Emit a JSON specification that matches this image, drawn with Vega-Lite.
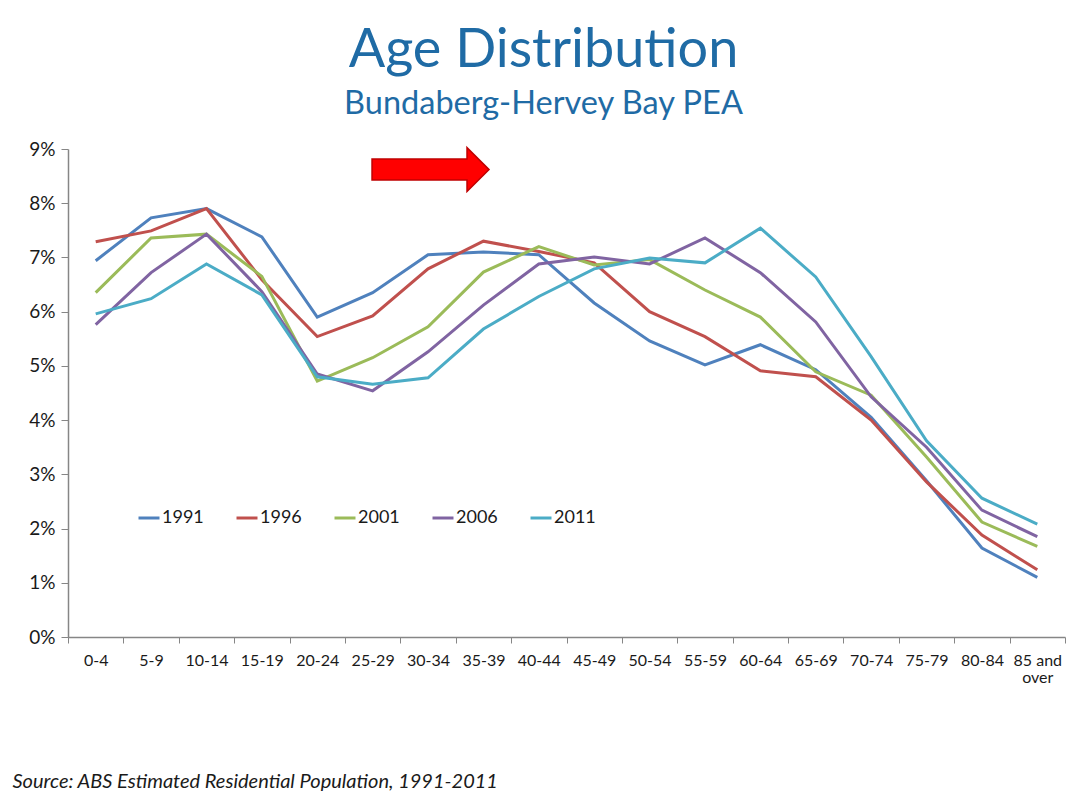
{
  "$schema": "https://vega.github.io/schema/vega-lite/v6.json",
  "width": 997,
  "height": 488,
  "autosize": {"type": "none"},
  "padding": {"left": 68, "top": 149, "right": 10, "bottom": 170},
  "background": "white",
  "title": {
    "text": "Age Distribution",
    "subtitle": "Bundaberg-Hervey Bay PEA",
    "anchor": "middle",
    "frame": "group",
    "dx": -23,
    "font": "Lato",
    "fontSize": 54,
    "fontWeight": "normal",
    "color": "#1F6BA5",
    "subtitleFont": "Lato",
    "subtitleFontSize": 32.5,
    "subtitleColor": "#1F6BA5",
    "subtitlePadding": 10,
    "offset": 20
  },
  "config": {
    "view": {"stroke": null},
    "font": "Lato",
    "axis": {
      "labelFont": "Lato",
      "labelColor": "#1a1a1a",
      "domainColor": "#868686",
      "tickColor": "#868686",
      "grid": false
    }
  },
  "datasets": {
    "series": [
      {"age": "0-4", "year": "1991", "pct": 6.94},
      {"age": "5-9", "year": "1991", "pct": 7.73},
      {"age": "10-14", "year": "1991", "pct": 7.9},
      {"age": "15-19", "year": "1991", "pct": 7.38},
      {"age": "20-24", "year": "1991", "pct": 5.9},
      {"age": "25-29", "year": "1991", "pct": 6.35},
      {"age": "30-34", "year": "1991", "pct": 7.05},
      {"age": "35-39", "year": "1991", "pct": 7.1},
      {"age": "40-44", "year": "1991", "pct": 7.05},
      {"age": "45-49", "year": "1991", "pct": 6.16},
      {"age": "50-54", "year": "1991", "pct": 5.46},
      {"age": "55-59", "year": "1991", "pct": 5.02},
      {"age": "60-64", "year": "1991", "pct": 5.39},
      {"age": "65-69", "year": "1991", "pct": 4.93},
      {"age": "70-74", "year": "1991", "pct": 4.05},
      {"age": "75-79", "year": "1991", "pct": 2.88},
      {"age": "80-84", "year": "1991", "pct": 1.64},
      {"age": "85 and over", "year": "1991", "pct": 1.1},
      {"age": "0-4", "year": "1996", "pct": 7.29},
      {"age": "5-9", "year": "1996", "pct": 7.49},
      {"age": "10-14", "year": "1996", "pct": 7.9},
      {"age": "15-19", "year": "1996", "pct": 6.59},
      {"age": "20-24", "year": "1996", "pct": 5.54},
      {"age": "25-29", "year": "1996", "pct": 5.92},
      {"age": "30-34", "year": "1996", "pct": 6.79},
      {"age": "35-39", "year": "1996", "pct": 7.3},
      {"age": "40-44", "year": "1996", "pct": 7.11},
      {"age": "45-49", "year": "1996", "pct": 6.9},
      {"age": "50-54", "year": "1996", "pct": 6.0},
      {"age": "55-59", "year": "1996", "pct": 5.54},
      {"age": "60-64", "year": "1996", "pct": 4.91},
      {"age": "65-69", "year": "1996", "pct": 4.8},
      {"age": "70-74", "year": "1996", "pct": 4.0},
      {"age": "75-79", "year": "1996", "pct": 2.86},
      {"age": "80-84", "year": "1996", "pct": 1.88},
      {"age": "85 and over", "year": "1996", "pct": 1.24},
      {"age": "0-4", "year": "2001", "pct": 6.35},
      {"age": "5-9", "year": "2001", "pct": 7.36},
      {"age": "10-14", "year": "2001", "pct": 7.43},
      {"age": "15-19", "year": "2001", "pct": 6.65},
      {"age": "20-24", "year": "2001", "pct": 4.72},
      {"age": "25-29", "year": "2001", "pct": 5.15},
      {"age": "30-34", "year": "2001", "pct": 5.72},
      {"age": "35-39", "year": "2001", "pct": 6.73},
      {"age": "40-44", "year": "2001", "pct": 7.2},
      {"age": "45-49", "year": "2001", "pct": 6.86},
      {"age": "50-54", "year": "2001", "pct": 6.96},
      {"age": "55-59", "year": "2001", "pct": 6.4},
      {"age": "60-64", "year": "2001", "pct": 5.9},
      {"age": "65-69", "year": "2001", "pct": 4.89},
      {"age": "70-74", "year": "2001", "pct": 4.46},
      {"age": "75-79", "year": "2001", "pct": 3.32},
      {"age": "80-84", "year": "2001", "pct": 2.12},
      {"age": "85 and over", "year": "2001", "pct": 1.67},
      {"age": "0-4", "year": "2006", "pct": 5.76},
      {"age": "5-9", "year": "2006", "pct": 6.72},
      {"age": "10-14", "year": "2006", "pct": 7.43},
      {"age": "15-19", "year": "2006", "pct": 6.37},
      {"age": "20-24", "year": "2006", "pct": 4.85},
      {"age": "25-29", "year": "2006", "pct": 4.54},
      {"age": "30-34", "year": "2006", "pct": 5.26},
      {"age": "35-39", "year": "2006", "pct": 6.12},
      {"age": "40-44", "year": "2006", "pct": 6.88},
      {"age": "45-49", "year": "2006", "pct": 7.01},
      {"age": "50-54", "year": "2006", "pct": 6.88},
      {"age": "55-59", "year": "2006", "pct": 7.36},
      {"age": "60-64", "year": "2006", "pct": 6.72},
      {"age": "65-69", "year": "2006", "pct": 5.81},
      {"age": "70-74", "year": "2006", "pct": 4.43},
      {"age": "75-79", "year": "2006", "pct": 3.5},
      {"age": "80-84", "year": "2006", "pct": 2.34},
      {"age": "85 and over", "year": "2006", "pct": 1.85},
      {"age": "0-4", "year": "2011", "pct": 5.96},
      {"age": "5-9", "year": "2011", "pct": 6.24},
      {"age": "10-14", "year": "2011", "pct": 6.88},
      {"age": "15-19", "year": "2011", "pct": 6.31},
      {"age": "20-24", "year": "2011", "pct": 4.8},
      {"age": "25-29", "year": "2011", "pct": 4.66},
      {"age": "30-34", "year": "2011", "pct": 4.78},
      {"age": "35-39", "year": "2011", "pct": 5.68},
      {"age": "40-44", "year": "2011", "pct": 6.28},
      {"age": "45-49", "year": "2011", "pct": 6.79},
      {"age": "50-54", "year": "2011", "pct": 6.99},
      {"age": "55-59", "year": "2011", "pct": 6.9},
      {"age": "60-64", "year": "2011", "pct": 7.54},
      {"age": "65-69", "year": "2011", "pct": 6.64},
      {"age": "70-74", "year": "2011", "pct": 5.17},
      {"age": "75-79", "year": "2011", "pct": 3.62},
      {"age": "80-84", "year": "2011", "pct": 2.56},
      {"age": "85 and over", "year": "2011", "pct": 2.08}
    ],
    "arrow": [
      {"age": "30-34", "pct": 8.62}
    ]
  },
  "encoding": {
    "x": {
      "field": "age",
      "type": "nominal",
      "sort": ["0-4","5-9","10-14","15-19","20-24","25-29","30-34","35-39","40-44","45-49","50-54","55-59","60-64","65-69","70-74","75-79","80-84","85 and over"],
      "scale": {"type": "band", "paddingInner": 0, "paddingOuter": 0},
      "axis": {
        "title": "Source: ABS Estimated Residential Population, 1991-2011",
        "titleFont": "Lato",
        "titleFontStyle": "italic",
        "titleFontWeight": "normal",
        "titleFontSize": 20,
        "titleColor": "#1a1a1a",
        "titleAnchor": "start",
        "titleAlign": "left",
        "titleBaseline": "alphabetic",
        "titleX": -56,
        "titleY": 150,
        "labelAngle": 0,
        "labelFontSize": 16,
        "labelPadding": 9,
        "labelLineHeight": 17,
        "labelExpr": "datum.value == '85 and over' ? ['85 and', 'over'] : datum.value",
        "tickBand": "extent",
        "tickSize": 6,
        "domainWidth": 1.5
      }
    },
    "y": {
      "field": "pct",
      "type": "quantitative",
      "scale": {"domain": [0, 9], "nice": false},
      "axis": {
        "title": null,
        "values": [0,1,2,3,4,5,6,7,8,9],
        "labelExpr": "datum.value + '%'",
        "labelFontSize": 19,
        "labelPadding": 6,
        "tickSize": 7,
        "domainWidth": 1.5
      }
    }
  },
  "layer": [
    {
      "data": {"name": "series"},
      "mark": {"type": "line", "strokeWidth": 3},
      "encoding": {
        "color": {
          "field": "year",
          "type": "nominal",
          "scale": {
            "domain": ["1991","1996","2001","2006","2011"],
            "range": ["#4F81BD","#C0504D","#9BBB59","#8064A2","#4BACC6"]
          },
          "legend": {
            "title": null,
            "orient": "none",
            "direction": "horizontal",
            "legendX": 69,
            "legendY": 357,
            "symbolType": "stroke",
            "symbolSize": 441,
            "symbolStrokeWidth": 3,
            "labelFont": "Lato",
            "labelFontSize": 18,
            "labelColor": "#1a1a1a",
            "labelOffset": 1,
            "columnPadding": 26
          }
        }
      }
    },
    {
      "data": {"name": "arrow"},
      "mark": {
        "type": "point",
        "shape": "M-0.918,-0.172 L0.639,-0.172 L0.639,-0.36 L1,0 L0.639,0.36 L0.639,0.172 L-0.918,0.172 Z",
        "size": 14884,
        "filled": true,
        "fill": "#FF0000",
        "stroke": "#C00000",
        "strokeWidth": 1.5,
        "opacity": 1
      }
    }
  ]
}
